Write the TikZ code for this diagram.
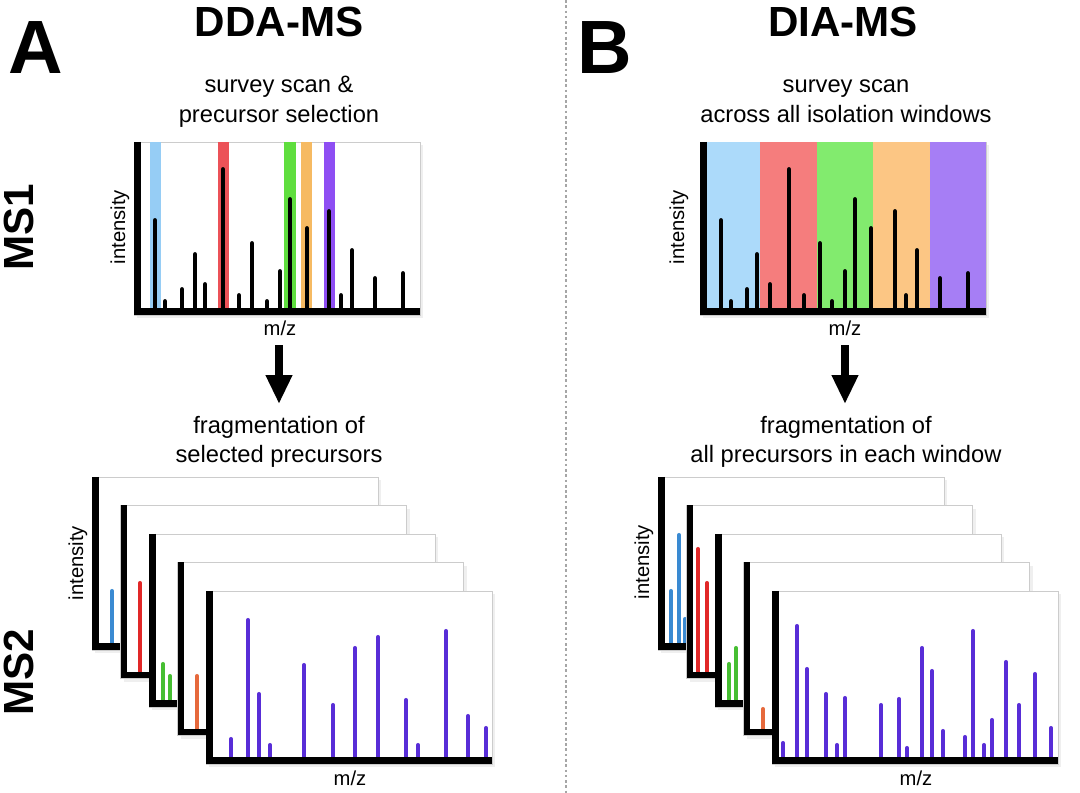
\documentclass[tikz,border=0pt]{standalone}
\usepackage{fontspec}
\setmainfont{Liberation Sans}
\usetikzlibrary{arrows.meta,shadows}

\definecolor{ddablue}{RGB}{150,205,245}
\definecolor{ddared}{RGB}{236,82,88}
\definecolor{ddagreen}{RGB}{95,222,62}
\definecolor{ddaorange}{RGB}{246,186,98}
\definecolor{ddapurple}{RGB}{142,78,243}
\definecolor{diablue}{RGB}{172,218,250}
\definecolor{diared}{RGB}{245,125,125}
\definecolor{diagreen}{RGB}{130,235,110}
\definecolor{diaorange}{RGB}{252,198,132}
\definecolor{diapurple}{RGB}{166,126,245}
\definecolor{fragblue}{RGB}{58,138,210}
\definecolor{fragred}{RGB}{225,40,40}
\definecolor{fraggreen}{RGB}{70,190,50}
\definecolor{fragorange}{RGB}{230,105,60}
\definecolor{fragpurple}{RGB}{88,45,215}

\tikzstyle{panel}     = [fill=white,draw=gray!40,line width=0.3pt,
                         drop shadow={shadow xshift=1.8pt,shadow yshift=-1.8pt,opacity=0.12}]
\tikzstyle{axes}      = [line width=3.97pt,line join=miter]
\tikzstyle{peak}      = [line width=2.8pt,line cap=round]
\tikzstyle{frag}      = [line width=2.3pt,line cap=round]
\tikzstyle{bigarrow}  = [line width=4.9pt,-{Triangle[width=14.2pt,length=16.5pt]}]
\tikzstyle{divider}   = [gray!70,line width=0.6pt,dash pattern=on 1.5pt off 1.5pt]
\tikzstyle{letter}    = [font=\fontsize{43}{50}\selectfont\bfseries,anchor=base]
\tikzstyle{heading}   = [font=\fontsize{24}{28}\selectfont\bfseries,anchor=base]
\tikzstyle{sub}       = [font=\fontsize{13.5}{16.5}\selectfont,anchor=base]
\tikzstyle{axlabel}   = [font=\fontsize{11.5}{14}\selectfont]
\tikzstyle{level}     = [font=\fontsize{24}{28}\selectfont\bfseries,rotate=90]

\begin{document}
\begin{tikzpicture}[x=0.02cm,y=-0.02cm]
           \path[fill=white,use as bounding box](0,0) rectangle (1080,793);
           \coordinate(divTop)at(566,0);
           \coordinate(divBot)at(566,793);
           \draw[divider](divTop) -- (divBot);

           % headings
           \node[letter](la)at(36,73.6){A};
           \node[letter](lb)at(604.5,74){B};
           \node[heading](dda)at(279,37){DDA-MS};
           \node[heading](dia)at(843,37){DIA-MS};
           \node[sub](ddaSurvA)at(279,92.6){survey scan \&};
           \node[sub](ddaSurvB)at(279,122.6){precursor selection};
           \node[sub](diaSurvA)at(846,92.6){survey scan};
           \node[sub](diaSurvB)at(846,122.6){across all isolation windows};
           \node[level](ms1)at(19,227){MS1};
           \node[level](ms2)at(19,672){MS2};

           % MS1, DDA
           \path[panel](134,142) rectangle (420,315);
           \fill[ddablue](150,142) rectangle (161,311.5);
           \fill[ddared](218,142) rectangle (229,311.5);
           \fill[ddagreen](284,142) rectangle (296,311.5);
           \fill[ddaorange](301,142) rectangle (312,311.5);
           \fill[ddapurple](324,142) rectangle (335,311.5);
           \foreach \x/\t in {155/218,165/299,182/287,195/252,205/282,223/167,239/293,252/241,267/299,
                              280/269,290/197,307/226,329/209,341/293,352/248,375/276,403/271}
               \draw[peak](\x,311.5) -- (\x,\t+2.5);
           \draw[axes](137.5,142) -- (137.5,311.5) -- (420,311.5);
           \node[axlabel,rotate=90](ddaInt1)at(120,227){intensity};
           \node[axlabel](ddaMz1)at(280,328){m/z};

           % MS1, DIA
           \path[panel](700,142) rectangle (986,315);
           \fill[diablue](703.5,142) rectangle (760,311.5);
           \fill[diared](760,142) rectangle (817,311.5);
           \fill[diagreen](817,142) rectangle (873,311.5);
           \fill[diaorange](873,142) rectangle (930,311.5);
           \fill[diapurple](930,142) rectangle (986,311.5);
           \foreach \x/\t in {721/218,731/299,747/287,757/252,770/282,789/167,804/293,820/241,832/299,
                              845/269,855/197,871/226,895/209,906/293,917/248,940/276,968/271}
               \draw[peak](\x,311.5) -- (\x,\t+2.5);
           \draw[axes](703.5,142) -- (703.5,311.5) -- (986,311.5);
           \node[axlabel,rotate=90](diaInt1)at(679,227){intensity};
           \node[axlabel](diaMz1)at(845,328){m/z};

           % arrows
           \coordinate(ddaArrTop)at(279,345.5);
           \coordinate(ddaArrTip)at(279,404);
           \coordinate(diaArrTop)at(845,345.5);
           \coordinate(diaArrTip)at(845,404);
           \draw[bigarrow](ddaArrTop) -- (ddaArrTip);
           \draw[bigarrow](diaArrTop) -- (diaArrTip);
           \node[sub](ddaFragA)at(279,434){fragmentation of};
           \node[sub](ddaFragB)at(279,463){selected precursors};
           \node[sub](diaFragA)at(846,434){fragmentation of};
           \node[sub](diaFragB)at(846,463){all precursors in each window};

           % MS2, DDA
           \path[panel](92,477) rectangle ++(286,173);
           \draw[frag,fragblue](112,646.5) -- (112,591);
           \draw[axes](95.5,477) -- (95.5,646.5) -- (378,646.5);
           \path[panel](120.5,505.5) rectangle ++(286,173);
           \draw[frag,fragred](140,675) -- (140,583);
           \draw[axes](124,505.5) -- (124,675) -- (406.5,675);
           \path[panel](149,534) rectangle ++(286,173);
           \draw[frag,fraggreen](163,703.5) -- (163,664);
           \draw[frag,fraggreen](170,703.5) -- (170,676);
           \draw[axes](152.5,534) -- (152.5,703.5) -- (435,703.5);
           \path[panel](177.5,562.5) rectangle ++(286,173);
           \draw[frag,fragorange](197,732) -- (197,676);
           \draw[axes](181,562.5) -- (181,732) -- (463.5,732);
           \path[panel](206,591) rectangle ++(286,173);
           \foreach \x/\t in {231/737,248/618,259/692,270/743,304/663,333/703,355/646,
                              378/635,406/698,418/743,446/629,468/714,486/726}
               \draw[frag,fragpurple](\x,760.5) -- (\x,\t+2);
           \draw[axes](209.5,591) -- (209.5,760.5) -- (492,760.5);
           \node[axlabel,rotate=90](ddaInt2)at(78,563){intensity};
           \node[axlabel](ddaMz2)at(350,778){m/z};

           % MS2, DIA
           \path[panel](658,477) rectangle ++(286,173);
           \draw[frag,fragblue](671,646.5) -- (671,591);
           \draw[frag,fragblue](679,646.5) -- (679,535);
           \draw[frag,fragblue](685,646.5) -- (685,619);
           \draw[axes](661.5,477) -- (661.5,646.5) -- (944,646.5);
           \path[panel](686.5,505.5) rectangle ++(286,173);
           \draw[frag,fragred](698,675) -- (698,549);
           \draw[frag,fragred](707,675) -- (707,583);
           \draw[axes](690,505.5) -- (690,675) -- (972.5,675);
           \path[panel](715,534) rectangle ++(286,173);
           \draw[frag,fraggreen](729,703.5) -- (729,664);
           \draw[frag,fraggreen](736,703.5) -- (736,648);
           \draw[axes](718.5,534) -- (718.5,703.5) -- (1001,703.5);
           \path[panel](743.5,562.5) rectangle ++(286,173);
           \draw[frag,fragorange](763,732) -- (763,709);
           \draw[axes](747,562.5) -- (747,732) -- (1029.5,732);
           \path[panel](772,591) rectangle ++(286,173);
           \foreach \x/\t in {783/741,797/624,807/667,826/692,837/743,845/696,881/703,899/697,907/746,922/646,
                              932/669,943/729,965/735,973/629,984/743,992/718,1006/660,1019/703,1035/672,1051/726}
               \draw[frag,fragpurple](\x,760.5) -- (\x,\t+2);
           \draw[axes](775.5,591) -- (775.5,760.5) -- (1058,760.5);
           \node[axlabel,rotate=90](diaInt2)at(644,562){intensity};
           \node[axlabel](diaMz2)at(916,778){m/z};
       \end{tikzpicture}
\end{document}
